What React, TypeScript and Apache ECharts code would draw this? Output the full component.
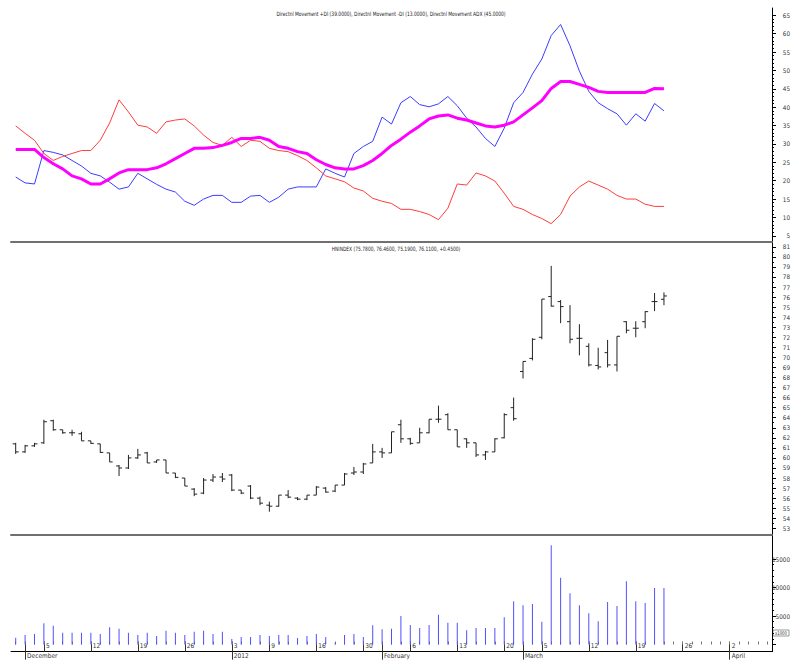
import React, { useEffect, useRef } from "react";
import * as echarts from "echarts";

const dates = [
  "2011-11-30","2011-12-01","2011-12-02","2011-12-05","2011-12-06","2011-12-07","2011-12-08","2011-12-09",
  "2011-12-12","2011-12-13","2011-12-14","2011-12-15","2011-12-16","2011-12-19","2011-12-20","2011-12-21",
  "2011-12-22","2011-12-23","2011-12-26","2011-12-27","2011-12-28","2011-12-29","2011-12-30","2012-01-03",
  "2012-01-04","2012-01-05","2012-01-06","2012-01-09","2012-01-10","2012-01-11","2012-01-12","2012-01-13",
  "2012-01-16","2012-01-17","2012-01-18","2012-01-19","2012-01-20","2012-01-30","2012-01-31","2012-02-01",
  "2012-02-02","2012-02-03","2012-02-06","2012-02-07","2012-02-08","2012-02-09","2012-02-10","2012-02-13",
  "2012-02-14","2012-02-15","2012-02-16","2012-02-17","2012-02-20","2012-02-21","2012-03-01","2012-03-02",
  "2012-03-05","2012-03-06","2012-03-07","2012-03-08","2012-03-09","2012-03-12","2012-03-13","2012-03-14",
  "2012-03-15","2012-03-16","2012-03-19","2012-03-20","2012-03-21","2012-03-22","2012-03-23","2012-03-26",
  "2012-03-27","2012-03-28","2012-03-29","2012-03-30","2012-04-02","2012-04-03","2012-04-04","2012-04-05",
  "2012-04-06"
];

const weekLabels: Record<string, string> = {
  "2011-12-05": "5", "2011-12-12": "12", "2011-12-19": "19", "2011-12-26": "26",
  "2012-01-03": "3", "2012-01-09": "9", "2012-01-16": "16", "2012-01-30": "30",
  "2012-02-06": "6", "2012-02-13": "13", "2012-02-20": "20", "2012-03-05": "5",
  "2012-03-12": "12", "2012-03-19": "19", "2012-03-26": "26", "2012-04-02": "2"
};
const monthLabels: Record<string, string> = {
  "2011-12-01": "December", "2012-01-03": "2012", "2012-02-01": "February",
  "2012-03-01": "March", "2012-04-02": "April"
};

const open = [61.4,60.6,61.2,61.5,63.7,62.8,62.5,62.4,61.7,61.4,60.5,59.2,59.0,60.0,60.5,59.6,59.8,58.5,58.0,56.9,
  56.5,57.8,58.1,58.3,56.8,57.2,56.0,55.3,55.2,56.3,56.0,55.9,56.3,57.0,56.7,57.3,58.5,58.6,59.5,60.6,
  60.5,63.3,61.9,61.5,62.5,63.85,64.3,62.8,61.9,61.5,60.3,60.6,62.0,65.0,68.6,69.9,72.0,76.05,75.55,73.55,
  71.9,71.1,69.2,70.47,69.25,73.55,72.9,73.55,75.55,75.78];
const high = [61.5,61.3,61.5,63.8,63.8,62.8,62.8,62.6,61.7,61.4,60.5,59.3,60.3,60.9,60.6,59.8,59.8,58.5,58.0,57.0,
  58.0,58.4,58.5,58.4,56.8,57.3,56.15,55.65,56.3,56.8,56.1,56.3,57.2,57.1,57.3,58.5,59.1,59.5,61.4,61.0,
  62.6,63.8,62.0,63.0,63.85,65.2,64.45,62.8,61.95,61.5,60.7,61.95,64.45,66.0,69.6,71.9,75.8,79.1,75.7,75.2,
  73.3,71.4,70.96,71.74,72.1,73.6,73.6,74.6,76.4,76.46];
const low = [60.4,60.5,61.1,61.4,62.7,62.4,62.2,61.7,61.4,60.5,59.6,58.2,58.9,59.9,59.5,59.5,58.5,58.0,57.2,56.2,
  56.4,57.6,57.6,56.7,56.4,55.9,55.3,54.65,55.15,56.0,55.8,55.8,56.3,56.55,56.6,57.3,58.3,58.4,59.5,60.0,
  60.5,61.5,61.3,61.5,62.45,63.5,62.8,61.1,61.0,60.1,59.8,60.6,61.95,63.7,67.9,69.7,71.8,75.05,73.4,71.4,
  70.2,69.1,68.8,69.0,68.6,72.4,72.0,72.9,74.6,75.19];
const close = [60.6,61.2,61.4,63.6,62.8,62.5,62.5,61.7,61.45,60.55,59.6,59.0,60.0,60.3,59.5,59.8,58.5,58.07,57.2,56.4,
  57.8,58.1,57.9,56.8,56.5,56.0,55.5,55.2,56.3,56.1,55.9,56.3,57.1,56.6,57.3,58.4,58.6,59.4,60.6,60.5,
  62.6,61.9,61.45,62.5,63.85,63.85,62.8,61.1,61.5,60.3,60.6,61.9,64.3,63.9,69.6,71.8,75.8,75.1,75.05,71.8,
  71.9,69.25,69.05,69.25,72.1,72.7,72.9,74.55,75.55,76.11];
const volume = [1190,1670,1840,3720,3300,2070,2070,2070,2070,1840,3020,2780,2070,1670,2070,1490,2430,2070,1670,2250,
  2430,1840,2250,960,1310,1310,1670,1490,1670,1670,1140,1490,1840,1310,300,1670,1840,1310,3370,2660,
  2780,5000,3400,2900,3400,5200,3800,3800,2500,2900,2900,2900,4800,7600,6900,7100,4000,17400,11700,9000,
  6900,5500,4100,7450,6750,11100,7600,7300,9900,9900];
const plusDI = [21,19.4,19.1,28.2,27.7,27,25.5,24,22,21.3,19.6,17.7,18.3,22,20.5,19,17.7,16.9,14.4,13.3,
  15,16,16,14.1,14.1,15.8,16,14.1,15.5,17.7,18.3,18.3,18.3,23.2,22,21,27.4,29.3,30.7,37.3,
  35.4,41.2,42.9,40.7,40.1,40.9,42.9,40.4,37,34.6,31.5,29.3,34.3,41.2,44,49,53.1,59.5,62.5,56.7,
  49.8,44.3,41.2,39.6,38.2,35.1,38.2,36.2,41,39];
const minusDI = [34.9,32.9,31,27.4,25.5,26.6,27.4,28.2,28.2,31,35.7,42,38.7,35.1,34.6,32.9,36,36.5,36.8,34.9,
  32.4,30.4,29.6,31.8,29.3,31,30.7,28.8,28.2,27.9,26.8,25.5,23.5,21.3,20.5,19.7,18,17.2,15.2,14.4,
  13.8,12.2,12.2,11.6,10.8,9.4,12.5,19.1,18.8,22.1,21.3,19.9,16.6,13,12.2,10.8,9.7,8.3,10.8,15.8,
  18.3,19.9,18.8,17.7,16,15,15,13.6,13,13];
const adx = [28.5,28.5,28.5,26.3,24.6,23.2,21.3,20.5,19.1,19.1,20.5,22.1,23,23,23,23.5,24.6,26,27.4,28.8,
  28.8,29,29.6,30.4,31.5,31.5,31.8,31,29.3,28.8,27.9,27.4,25.7,24.4,23.5,23.2,23.2,24.1,25.5,27.4,
  29.6,31.3,33.2,34.9,36.8,37.6,37.9,37,36.5,35.7,34.9,34.6,35.1,36,37.9,39.8,41.8,45.1,47,47,
  46.2,45.4,44.3,44,44,44,44,44,45.1,45];

const dmiTitle = "Directnl Movement +DI (39.0000), Directnl Movement -DI (13.0000), Directnl Movement ADX (45.0000)";
const priceTitle = "HNINDEX (75.7800, 76.4600, 75.1900, 76.1100, +0.4500)";
const volumeUnit = "x1000";

const FONT = "'Liberation Sans Narrow', 'Arial Narrow', 'DejaVu Sans Condensed', sans-serif";

export default function App() {
  const ref = useRef<HTMLDivElement>(null);
  useEffect(() => {
    document.body.style.margin = "0";
    if (!ref.current) return;
    const chart = echarts.init(ref.current, null, { renderer: "svg" });
    const L = 11, R = 30;
    const grids = [
      { left: L, right: R, top: 8, height: 234 },
      { left: L, right: R, top: 15.3, height: 220.5 },
      { left: L, right: R, top: 242, height: 293 },
      { left: L, right: R, top: 246.8, height: 281.5 },
      { left: L, right: R, top: 535, height: 116.7 },
      { left: L, right: R, top: 559, height: 85.5 },
    ];
    const hiddenX = (g: number, extra: any = {}) => ({
      type: "category", data: dates, boundaryGap: true, gridIndex: g, position: "bottom",
      axisLine: { show: false, onZero: false }, axisTick: { show: false },
      axisLabel: { show: false }, splitLine: { show: false }, ...extra,
    });
    const frameY = (g: number) => ({
      type: "value", gridIndex: g, position: "right", min: 0, max: 1,
      axisLine: { show: true, lineStyle: { color: "#000", width: 1 } },
      axisTick: { show: false }, axisLabel: { show: false }, splitLine: { show: false },
    });
    const tickY = (g: number, min: number, max: number, interval: number, minorSplit: number) => ({
      type: "value", gridIndex: g, position: "right", min, max, interval,
      axisLine: { show: false },
      axisTick: { show: true, length: 4, lineStyle: { color: "#000" } },
      minorTick: { show: true, splitNumber: minorSplit, length: 2, lineStyle: { color: "#000" } },
      axisLabel: { align: "right", margin: 18, fontSize: 6.3, fontFamily: FONT, color: "#333",
        showMinLabel: min !== 0, formatter: (v: number) => String(v) },
      splitLine: { show: false }, minorSplitLine: { show: false },
    });
    const weekIdx = new Set(dates.map((d, i) => (weekLabels[d] ? i : -1)).filter((i) => i >= 0));
    const monthIdx = new Set(dates.map((d, i) => (monthLabels[d] ? i : -1)).filter((i) => i >= 0));

    const option: any = {
      animation: false,
      grid: grids,
      xAxis: [
        hiddenX(0, { axisLine: { show: true, onZero: false, lineStyle: { color: "#707070", width: 2 } } }),
        hiddenX(1),
        hiddenX(2, { axisLine: { show: true, onZero: false, lineStyle: { color: "#707070", width: 2 } } }),
        hiddenX(3),
        hiddenX(4, {
          axisLine: { show: true, onZero: false, lineStyle: { color: "#000", width: 1 } },
          axisTick: { show: true, inside: true, length: 10, alignWithLabel: true,
            interval: (i: number) => weekIdx.has(i) || monthIdx.has(i), lineStyle: { color: "#333" } },
          axisLabel: { show: true, inside: true, margin: 2, align: "left", padding: [0, 0, 0, 2],
            interval: (i: number) => weekIdx.has(i),
            formatter: (v: string) => weekLabels[v] || "",
            fontSize: 6.5, fontFamily: FONT, color: "#333" },
        }),
        hiddenX(4, {
          offset: 0,
          axisTick: { show: true, inside: false, length: 8, alignWithLabel: true,
            interval: (i: number) => monthIdx.has(i), lineStyle: { color: "#333" } },
          axisLabel: { show: true, margin: 1, align: "left", padding: [0, 0, 0, 2],
            interval: (i: number) => monthIdx.has(i),
            formatter: (v: string) => monthLabels[v] || "",
            fontSize: 6.5, fontFamily: FONT, color: "#333" },
        }),
        hiddenX(5, {
          axisTick: { show: true, inside: true, length: 3, alignWithLabel: true, interval: 0,
            lineStyle: { color: "#777" } },
        }),
      ],
      yAxis: [
        frameY(0),
        tickY(1, 5, 65, 5, 5),
        frameY(2),
        tickY(3, 53, 81, 1, 2),
        frameY(4),
        tickY(5, 0, 15000, 5000, 5),
      ],
      series: [
        { type: "line", xAxisIndex: 1, yAxisIndex: 1, data: plusDI, symbol: "none",
          lineStyle: { color: "#3c3cff", width: 1 } },
        { type: "line", xAxisIndex: 1, yAxisIndex: 1, data: minusDI, symbol: "none",
          lineStyle: { color: "#ff3c3c", width: 1 } },
        { type: "line", xAxisIndex: 1, yAxisIndex: 1, data: adx, symbol: "none",
          lineStyle: { color: "#ff00ff", width: 3 } },
        {
          type: "custom", xAxisIndex: 3, yAxisIndex: 3,
          data: open.map((o, i) => [i, o, high[i], low[i], close[i]]),
          encode: { x: 0, y: [1, 2, 3, 4] },
          renderItem: (_p: any, api: any) => {
            const i = api.value(0);
            const pO = api.coord([i, api.value(1)]);
            const pH = api.coord([i, api.value(2)]);
            const pL = api.coord([i, api.value(3)]);
            const pC = api.coord([i, api.value(4)]);
            const x = pO[0];
            const style = { stroke: "#222", lineWidth: 1 };
            return {
              type: "group",
              children: [
                { type: "line", shape: { x1: x, y1: pH[1], x2: x, y2: pL[1] }, style },
                { type: "line", shape: { x1: x - 3, y1: pO[1], x2: x, y2: pO[1] }, style },
                { type: "line", shape: { x1: x, y1: pC[1], x2: x + 3, y2: pC[1] }, style },
              ],
            };
          },
        },
        { type: "bar", xAxisIndex: 6, yAxisIndex: 5, data: volume, barWidth: 1, clip: false,
          itemStyle: { color: "#5050ff" } },
      ],
      graphic: [
        { type: "text", x: 391, y: 14, scaleX: 0.82, style: { text: dmiTitle, fontSize: 6, fontFamily: FONT,
          fill: "#222", align: "center", verticalAlign: "middle" } },
        { type: "text", x: 396, y: 249, scaleX: 0.82, style: { text: priceTitle, fontSize: 6, fontFamily: FONT,
          fill: "#222", align: "center", verticalAlign: "middle" } },
        { type: "rect", x: 773, y: 630, shape: { width: 16, height: 6 },
          style: { fill: "#fff", stroke: "#555", lineWidth: 0.6 } },
        { type: "text", x: 781, y: 633, scaleX: 0.85, style: { text: volumeUnit, fontSize: 5, fontFamily: FONT,
          fill: "#333", align: "center", verticalAlign: "middle" } },
      ],
    };
    chart.setOption(option);
    return () => chart.dispose();
  }, []);
  return <div ref={ref} style={{ width: 802, height: 661 }} />;
}
